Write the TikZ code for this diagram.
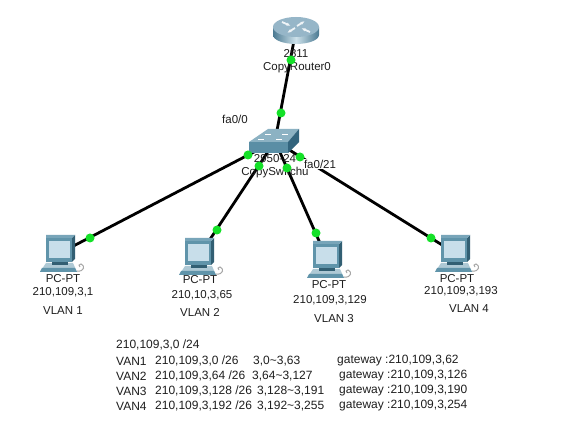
\documentclass[tikz,border=0pt]{standalone}
\usepackage{fontspec}
\usetikzlibrary{arrows.meta}
\setmainfont{Liberation Sans}
\definecolor{linkgreen}{RGB}{20,225,40}
\definecolor{bezel}{RGB}{96,148,170}
\definecolor{bezeldark}{RGB}{50,95,115}
\definecolor{screenc}{RGB}{200,222,234}
\definecolor{basec}{RGB}{120,165,185}
\definecolor{rtop}{RGB}{150,182,200}
\definecolor{rmid}{RGB}{205,225,234}
\definecolor{rdark}{RGB}{75,122,146}
\definecolor{swfront}{RGB}{90,142,165}
\definecolor{swtop}{RGB}{140,178,195}
\definecolor{swside}{RGB}{50,100,125}
\definecolor{txt}{RGB}{30,30,30}
\tikzset{
  x=1pt,y=-1pt,
  device/.style={inner sep=0pt,minimum size=2pt},
  link/.style={line width=2.8pt,black},
  port/.style={circle,fill=linkgreen,inner sep=0pt,minimum size=9pt},
  lab/.style={inner sep=0pt,font=\fontsize{11.5}{12}\selectfont,text=txt},
  tab/.style={inner sep=0pt,font=\fontsize{12}{12}\selectfont,text=txt,anchor=west},
  rarrow/.style={white!85!rtop,line width=1.8pt,-{Latex[length=4.5pt]}},
  pc/.pic={
    \fill[basec!60!white] (-20,19) -- (-14,10) -- (13,10) -- (17,19) -- cycle;
    \fill[bezel] (-20,19) -- (-18,15) -- (15,15) -- (17,19) -- cycle;
    \fill[bezeldark] (-8,5) rectangle (8,12);
    \fill[bezeldark] (12,-15) -- (15,-18) -- (15,6) -- (12,9) -- cycle;
    \fill[basec] (-14,-18) -- (15,-18) -- (12,-15) -- (-14,-15) -- cycle;
    \fill[bezel] (-14,-15) rectangle (12,9);
    \fill[screenc] (-11,-12) rectangle (10,5);
    \draw[gray!70,line width=1pt] (17,18) .. controls (25,19) and (25,12) .. (21,11) .. controls (19,11) and (18,13) .. (20,14);
  }
}
\begin{document}
\begin{tikzpicture}
\useasboundingbox[fill=white] (0,0) rectangle (570,443);
% device anchors
\node[device] (router) at (296,30) {};
\node[device] (switch) at (275,141) {};
\node[device] (pc1) at (60,253) {};
\node[device] (pc2) at (199,256) {};
\node[device] (pc3) at (327,259) {};
\node[device] (pc4) at (455,253) {};
% connectors
\draw[link] (router.center) -- (switch.center);
\draw[link] (switch.center) -- (pc1.center);
\draw[link] (switch.center) -- (pc2.center);
\draw[link] (switch.center) -- (pc3.center);
\draw[link] (switch.center) -- (pc4.center);
% router
\shade[left color=rdark,right color=rdark,middle color=rmid] (273,27) -- (273,35) arc[start angle=180,end angle=360,x radius=23,y radius=-9] -- (319,27) -- cycle;
\fill[rtop] (296,27) ellipse[x radius=23,y radius=10];
\draw[rarrow] (282,22) -- (291,26);
\draw[rarrow] (310,32) -- (301,28);
\draw[rarrow] (297,26) -- (305,21);
\draw[rarrow] (295,28) -- (287,33);
% switch
\fill[swtop] (249,142) -- (268,129) -- (299,129) -- (288,142) -- cycle;
\fill[swfront] (249,142) rectangle (288,153);
\fill[swside] (288,142) -- (299,129) -- (299,142) -- (288,153) -- cycle;
\draw[white,line width=.8pt] (265,134) -- (271,134) (282,134) -- (288,134) (258,139) -- (264,139) (276,139) -- (282,139);
% PCs
\pic at (pc1.center) {pc};
\pic at (pc2.center) {pc};
\pic at (pc3.center) {pc};
\pic at (pc4.center) {pc};
% labels
\node[lab] (lr1) at (296,54) {2811};
\node[lab] (lr2) at (297,68) {CopyRouter0};
\node[lab] (lf0) at (235,119) {fa0/0};
\node[lab] (ls1) at (275,159) {2950-24};
\node[lab] (ls2) at (275,173) {CopySwitchu};
\node[lab,fill=white,inner sep=1pt] (lf21) at (320,164) {fa0/21};
% ports
\node[port] (p0) at (291,60) {};
\node[port] (p1) at (281,113) {};
\node[port] (p2) at (248,155) {};
\node[port] (p3) at (259,166) {};
\node[port] (p4) at (287,168) {};
\node[port] (p5) at (300,157) {};
\node[port] (p6) at (90,238) {};
\node[port] (p7) at (217,230) {};
\node[port] (p8) at (316,233) {};
\node[port] (p9) at (431,238) {};
% PC labels
\node[lab] (a1) at (63,279) {PC-PT};
\node[lab] (a2) at (63,292) {210,109,3,1};
\node[lab] (a3) at (63,311) {VLAN 1};
\node[lab] (b1) at (200,280) {PC-PT};
\node[lab] (b2) at (202,295) {210,10,3,65};
\node[lab] (b3) at (200,312) {VLAN 2};
\node[lab] (c1) at (329,285) {PC-PT};
\node[lab] (c2) at (330,300) {210,109,3,129};
\node[lab] (c3) at (334,319) {VLAN 3};
\node[lab] (d1) at (457,279) {PC-PT};
\node[lab] (d2) at (461,291) {210,109,3,193};
\node[lab] (d3) at (469,309) {VLAN 4};
% address table
\node[tab] (t0) at (116,345) {210,109,3,0 /24};
\node[tab] (t1a) at (116,361) {VAN1};
\node[tab] (t1b) at (155,361) {210,109,3,0 /26};
\node[tab] (t1c) at (253,361) {3,0\textasciitilde3,63};
\node[tab] (t1d) at (337,361) {gateway :210,109,3,62};
\node[tab] (t2a) at (116,376) {VAN2};
\node[tab] (t2b) at (155,376) {210,109,3,64 /26};
\node[tab] (t2c) at (252,376) {3,64\textasciitilde3,127};
\node[tab] (t2d) at (339,376) {gateway :210,109,3,126};
\node[tab] (t3a) at (116,391) {VAN3};
\node[tab] (t3b) at (155,391) {210,109,3,128 /26};
\node[tab] (t3c) at (257,391) {3,128\textasciitilde3,191};
\node[tab] (t3d) at (339,391) {gateway :210,109,3,190};
\node[tab] (t4a) at (116,406) {VAN4};
\node[tab] (t4b) at (155,406) {210,109,3,192 /26};
\node[tab] (t4c) at (257,406) {3,192\textasciitilde3,255};
\node[tab] (t4d) at (339,406) {gateway :210,109,3,254};
\end{tikzpicture}
\end{document}
